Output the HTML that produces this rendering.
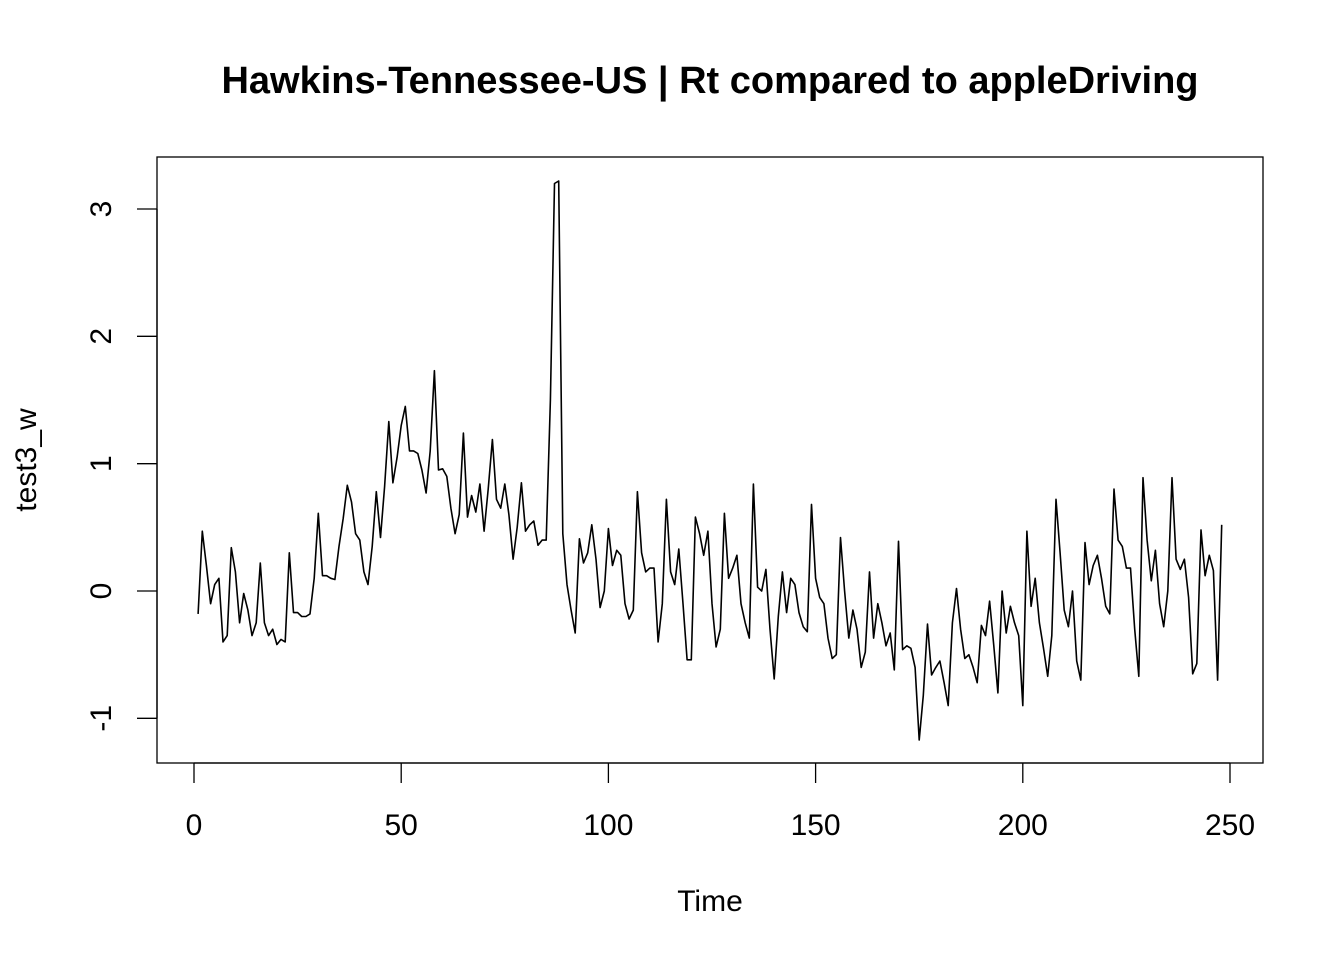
<!DOCTYPE html>
<html><head><meta charset="utf-8"><style>
body{margin:0;background:#fff}
svg text{font-family:"Liberation Sans",Arial,sans-serif;fill:#000}
</style></head><body>
<svg id="chart" width="1344" height="960">
<rect width="1344" height="960" fill="#fff"/>
<text x="710" y="93" font-size="38" font-weight="bold" text-anchor="middle">Hawkins-Tennessee-US | Rt compared to appleDriving</text>
<rect x="157" y="157" width="1106" height="606" fill="none" stroke="#000" stroke-width="1.3"/>
<g id="xaxis"></g>
<g id="yaxis"></g>
<text x="710" y="911" font-size="30" text-anchor="middle">Time</text>
<text transform="translate(36,460) rotate(-90)" font-size="30" text-anchor="middle">test3_w</text>
<path id="line" fill="none" stroke="#000" stroke-width="1.6" stroke-linejoin="round"/>
</svg>
<script>
const xTicks=[0,50,100,150,200,250];
const yTicks=[-1,0,1,2,3];
const values=[-0.18,0.47,0.2,-0.1,0.05,0.1,-0.4,-0.35,0.34,0.15,-0.25,-0.02,-0.15,-0.35,-0.25,0.22,-0.25,-0.35,-0.3,-0.42,-0.38,-0.4,0.3,-0.17,-0.17,-0.2,-0.2,-0.18,0.1,0.61,0.12,0.12,0.1,0.09,0.35,0.57,0.83,0.7,0.45,0.4,0.15,0.05,0.35,0.78,0.42,0.82,1.33,0.85,1.05,1.3,1.45,1.1,1.1,1.08,0.95,0.77,1.1,1.73,0.95,0.96,0.9,0.65,0.45,0.6,1.24,0.58,0.75,0.62,0.84,0.47,0.8,1.19,0.72,0.65,0.84,0.6,0.25,0.5,0.85,0.47,0.52,0.55,0.36,0.4,0.4,1.5,3.2,3.22,0.45,0.05,-0.15,-0.33,0.41,0.22,0.3,0.52,0.25,-0.13,0.0,0.49,0.2,0.32,0.28,-0.1,-0.22,-0.15,0.78,0.3,0.15,0.18,0.18,-0.4,-0.1,0.72,0.15,0.05,0.33,-0.1,-0.54,-0.54,0.58,0.45,0.28,0.47,-0.1,-0.44,-0.3,0.61,0.1,0.18,0.28,-0.1,-0.25,-0.37,0.84,0.03,0.0,0.17,-0.3,-0.69,-0.2,0.15,-0.17,0.1,0.05,-0.17,-0.28,-0.32,0.68,0.1,-0.05,-0.1,-0.37,-0.53,-0.5,0.42,0.0,-0.37,-0.15,-0.3,-0.6,-0.48,0.15,-0.37,-0.1,-0.25,-0.43,-0.33,-0.62,0.39,-0.46,-0.43,-0.45,-0.6,-1.17,-0.82,-0.26,-0.66,-0.6,-0.55,-0.72,-0.9,-0.25,0.02,-0.3,-0.53,-0.5,-0.6,-0.72,-0.27,-0.35,-0.08,-0.43,-0.8,0.0,-0.33,-0.12,-0.25,-0.35,-0.9,0.47,-0.12,0.1,-0.25,-0.45,-0.67,-0.35,0.72,0.3,-0.15,-0.28,0.0,-0.55,-0.7,0.38,0.05,0.2,0.28,0.1,-0.12,-0.18,0.8,0.4,0.35,0.18,0.18,-0.3,-0.67,0.89,0.4,0.08,0.32,-0.1,-0.28,0.0,0.89,0.25,0.17,0.25,-0.05,-0.65,-0.57,0.48,0.12,0.28,0.16,-0.7,0.52];
const X=t=>194+t*(1230-194)/250;
const Y=v=>591-v*(591-209)/3;
const NS="http://www.w3.org/2000/svg";
const xa=document.getElementById('xaxis'),ya=document.getElementById('yaxis');
function mk(tag,attrs,parent,txt){const e=document.createElementNS(NS,tag);for(const k in attrs)e.setAttribute(k,attrs[k]);if(txt!==undefined)e.textContent=txt;parent.appendChild(e);return e;}
let l=mk('line',{x1:X(xTicks[0]),x2:X(xTicks[xTicks.length-1]),y1:763,y2:763,stroke:'#000','stroke-width':1.3},xa);


xTicks.forEach(t=>{
 const tk=mk('line',{x1:X(t),x2:X(t),y1:763,y2:783,stroke:'#000','stroke-width':1.3},xa);
 
 
 const tx=mk('text',{x:X(t),y:835,'font-size':30,'text-anchor':'middle'},xa,String(t));
 
 
});
l=mk('line',{x1:157,x2:157,y1:Y(yTicks[0]),y2:Y(yTicks[yTicks.length-1]),stroke:'#000','stroke-width':1.3},ya);


yTicks.forEach(v=>{
 const tk=mk('line',{x1:137,x2:157,y1:Y(v),y2:Y(v),stroke:'#000','stroke-width':1.3},ya);
 
 
 const tx=mk('text',{transform:`translate(111,${Y(v)}) rotate(-90)`,'font-size':30,'text-anchor':'middle'},ya,String(v));
 
 
});
document.getElementById('line').setAttribute('d',values.map((v,i)=>(i?'L':'M')+X(i+1).toFixed(1)+','+Y(v).toFixed(1)).join(''));
</script>
</body></html>
